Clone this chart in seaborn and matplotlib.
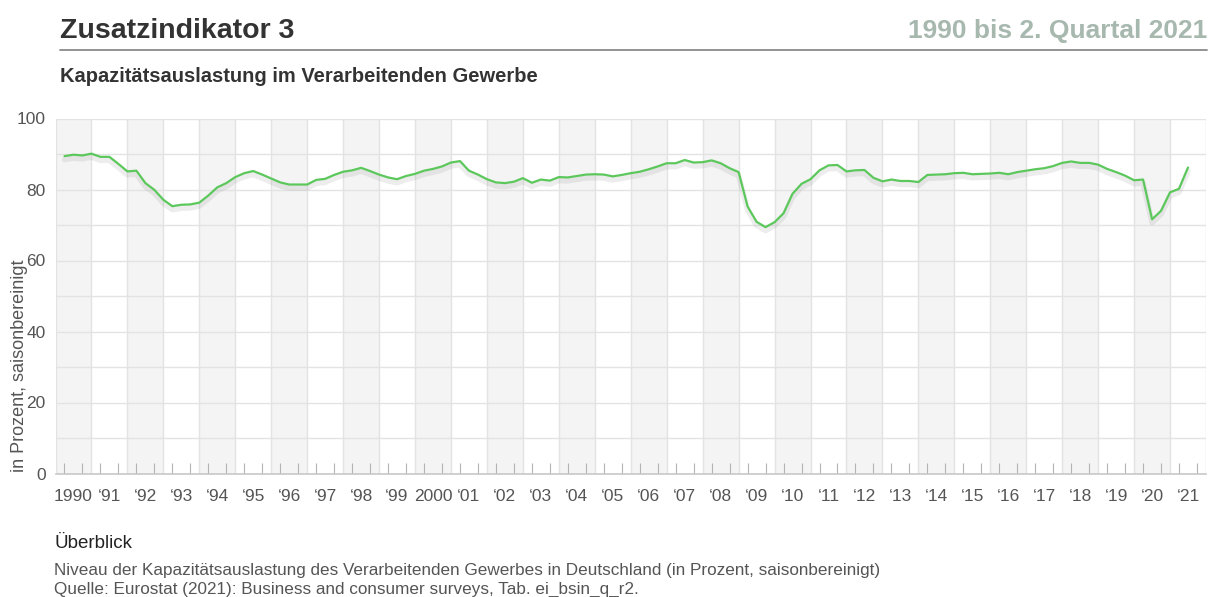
import matplotlib
matplotlib.use("Agg")
import matplotlib.pyplot as plt
import matplotlib.patheffects as pe
import seaborn as sns
import pandas as pd

# quarterly capacity utilisation, 1990Q1 .. 2021Q2 (percent, seasonally adjusted)
start_quarter = "1990Q1"
end_quarter = "2021Q2"
utilisation = [
    89.4, 89.8, 89.6, 90.1,   # 1990
    89.2, 89.2, 87.2, 85.1,   # 1991
    85.3, 81.8, 79.9, 77.1,   # 1992
    75.3, 75.7, 75.8, 76.3,   # 1993
    78.3, 80.6, 81.8, 83.5,   # 1994
    84.6, 85.2, 84.2, 83.1,   # 1995
    82.0, 81.4, 81.4, 81.4,   # 1996
    82.7, 83.0, 84.1, 85.0,   # 1997
    85.4, 86.1, 85.2, 84.2,   # 1998
    83.4, 82.9, 83.8, 84.4,   # 1999
    85.3, 85.8, 86.5, 87.6,   # 2000
    88.0, 85.3, 84.2, 82.9,   # 2001
    82.0, 81.8, 82.2, 83.2,   # 2002
    81.9, 82.8, 82.5, 83.5,   # 2003
    83.4, 83.8, 84.2, 84.3,   # 2004
    84.2, 83.7, 84.1, 84.6,   # 2005
    85.0, 85.7, 86.5, 87.4,   # 2006
    87.4, 88.3, 87.6, 87.7,   # 2007
    88.2, 87.4, 86.0, 84.9,   # 2008
    75.2, 70.9, 69.4, 70.8,   # 2009
    73.3, 78.8, 81.6, 82.9,   # 2010
    85.4, 86.8, 86.9, 85.1,   # 2011
    85.4, 85.5, 83.3, 82.3,   # 2012
    82.8, 82.4, 82.4, 82.1,   # 2013
    84.1, 84.2, 84.3, 84.6,   # 2014
    84.7, 84.3, 84.4, 84.5,   # 2015
    84.7, 84.3, 84.9, 85.3,   # 2016
    85.7, 86.0, 86.6, 87.5,   # 2017
    87.9, 87.5, 87.5, 87.0,   # 2018
    85.8, 84.9, 83.9, 82.6,   # 2019
    82.8, 71.6, 74.0, 79.2,   # 2020
    80.2, 86.2,               # 2021
]
years = list(range(1990, 2022))
year_labels = ["1990"] + ["\u2018%02d" % (y % 100) if y != 2000 else "2000" for y in years[1:]]
y_ticks = [0, 20, 40, 60, 80, 100]

periods = pd.period_range(start_quarter, end_quarter, freq="Q")
df = pd.DataFrame({"pos": periods.year + periods.quarter / 4, "value": utilisation})

sns.set_theme(style="white")
plt.rcParams["font.family"] = ["Liberation Sans", "DejaVu Sans"]

fig = plt.figure(figsize=(12.09, 5.97), dpi=100)
ax = fig.add_axes([55.5 / 1209, 1 - 473.5 / 597, (1206 - 55.5) / 1209, (473.5 - 118.5) / 597])

# alternating year shading and year separators
for y in years:
    if y % 2 == 0:
        ax.axvspan(y, y + 1, color="#f4f4f4", zorder=0, lw=0)
    ax.axvline(y, color="#e3e3e3", lw=1, zorder=1)
ax.axvline(years[-1] + 1, color="#e3e3e3", lw=1, zorder=1)

sns.lineplot(data=df, x="pos", y="value", ax=ax, color="#5cc85c", lw=1.6, zorder=3)
ax.lines[-1].set_path_effects([
    pe.SimpleLineShadow(offset=(0, -2.5), shadow_color="#777777", alpha=0.13, linewidth=4),
    pe.Normal(),
])

ax.set_xlim(years[0], years[-1] + 1)
ax.set_ylim(0, 100)
ax.set_yticks(y_ticks)
ax.set_yticks(range(10, 100, 20), minor=True)
ax.yaxis.grid(True, which="both", color="#e3e3e3", lw=1, zorder=1)
ax.set_axisbelow(True)

ax.set_xticks([y + 0.5 for y in years])
ax.set_xticklabels(year_labels)
ax.set_xticks([y + q / 4 for y in years for q in (1, 2, 3)], minor=True)
ax.tick_params(axis="x", which="major", length=0, pad=11, labelsize=12.5, labelcolor="#555555")
ax.tick_params(axis="x", which="minor", bottom=True, direction="in", length=8, width=0.8,
               color="#b4b4b4")
ax.tick_params(axis="y", which="both", length=0, pad=7, labelsize=12.5, labelcolor="#555555")

for s in ["left", "right", "top"]:
    ax.spines[s].set_visible(False)
ax.spines["bottom"].set_color("#c8c8c8")
ax.spines["bottom"].set_linewidth(1.2)
ax.set_xlabel("")
ax.set_ylabel("")

fig.text(20 / 1209, 1 - 472 / 597, "in Prozent, saisonbereinigt", rotation=90,
         ha="center", va="bottom", fontsize=13, color="#555555")

# header
fig.text(60 / 1209, 1 - 31 / 597, "Zusatzindikator 3", ha="left", va="center",
         fontsize=20.5, fontweight="bold", color="#333333")
fig.text(1207 / 1209, 1 - 31 / 597, "1990 bis 2. Quartal 2021", ha="right", va="center",
         fontsize=19, fontweight="bold", color="#a7b8ae")
fig.add_artist(plt.Line2D([60 / 1209, 1207 / 1209], [1 - 50 / 597, 1 - 50 / 597],
                          color="#8a8a8a", lw=1.3))
fig.text(60 / 1209, 1 - 77 / 597, "Kapazitätsauslastung im Verarbeitenden Gewerbe",
         ha="left", va="center", fontsize=14.5, fontweight="bold", color="#333333")

# footer
fig.text(54 / 1209, 1 - 544 / 597, "Überblick", ha="left", va="center", fontsize=13.5, color="#222222")
fig.text(54 / 1209, 1 - 571 / 597,
         "Niveau der Kapazitätsauslastung des Verarbeitenden Gewerbes in Deutschland (in Prozent, saisonbereinigt)",
         ha="left", va="center", fontsize=12.3, color="#555555")
fig.text(54 / 1209, 1 - 589 / 597,
         "Quelle: Eurostat (2021): Business and consumer surveys, Tab. ei_bsin_q_r2.",
         ha="left", va="center", fontsize=12.3, color="#555555")

fig.savefig("out.png", dpi=100)
